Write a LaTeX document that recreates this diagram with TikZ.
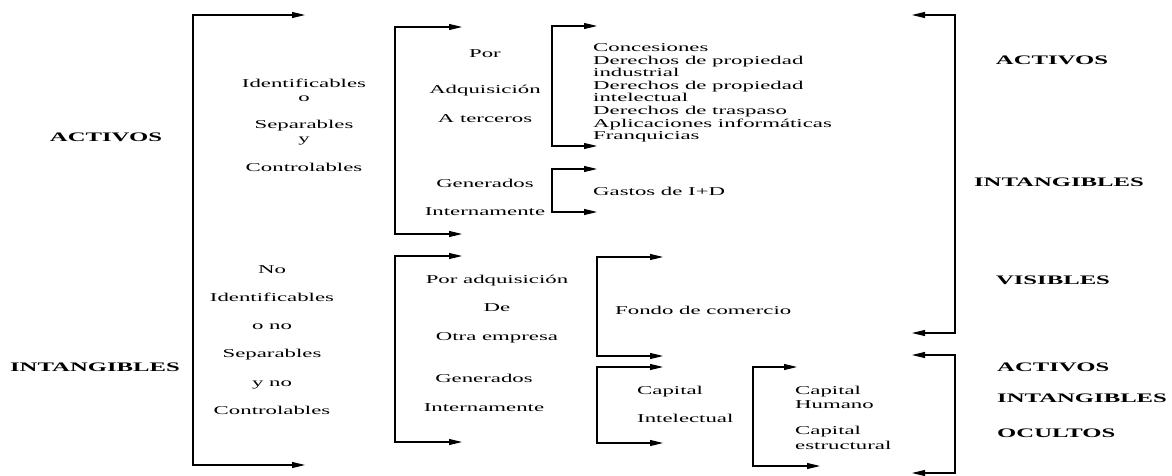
\documentclass[tikz,border=0pt]{standalone}
\usepackage{fontspec}
\setmainfont[FakeStretch=1.9]{Liberation Serif}
\usetikzlibrary{arrows.meta,positioning}

\begin{document}
\begin{tikzpicture}[x=1pt,y=-1pt]
      \useasboundingbox (0,0) rectangle (1172,476);
      \tikzset{
        TitleStyle/.style = {font=\fontsize{13}{15}\selectfont\bfseries, inner sep=0pt},
        TextStyle/.style = {font=\fontsize{12}{14}\selectfont, inner sep=0pt, align=center},
        ListStyle/.style = {font=\fontsize{12}{12.6}\selectfont, inner sep=0pt, align=left, anchor=west},
        BracketStyle/.style = {{Triangle[length=13pt,width=6pt]}-{Triangle[length=13pt,width=6pt]}, line width=1.1pt}
      }

      % Labels
      \node[TitleStyle] (activos) at (106,137) {ACTIVOS};
      \node[TitleStyle] (intangibles) at (95,367) {INTANGIBLES};
      \node[TextStyle, font=\fontsize{12}{14.5}\selectfont] (ident) at (304,125) {Identificables\\o\\[12pt]Separables\\y\\[14pt]Controlables};
      \node[TextStyle, font=\fontsize{12}{28.2}\selectfont] (noident) at (272,340) {No\\Identificables\\o no\\Separables\\y no\\Controlables};
      \node[TextStyle, font=\fontsize{12}{29}\selectfont] (terceros) at (485,86) {Por\\[7pt]Adquisición\\A terceros};
      \node[TextStyle, font=\fontsize{12}{28}\selectfont] (gen1) at (485,197) {Generados\\Internamente};
      \node[TextStyle, font=\fontsize{12}{28.5}\selectfont] (otra) at (497,309) {Por adquisición\\De\\Otra empresa};
      \node[TextStyle, font=\fontsize{12}{29}\selectfont] (gen2) at (484,393) {Generados\\Internamente};
      \node[ListStyle, font=\fontsize{12}{28}\selectfont] (capint) at (637,404) {Capital\\Intelectual};
      \node[ListStyle] (lista) at (593,93) {Concesiones\\Derechos de propiedad\\industrial\\Derechos de propiedad\\intelectual\\Derechos de traspaso\\Aplicaciones informáticas\\Franquicias};
      \node[ListStyle] (gastos) at (593,191) {Gastos de I+D};
      \node[ListStyle] (fondo) at (615,310) {Fondo de comercio};
      \node[ListStyle, font=\fontsize{12}{14}\selectfont] (caphum) at (795,397) {Capital\\Humano};
      \node[ListStyle, font=\fontsize{12}{14.5}\selectfont] (capest) at (795,438) {Capital\\estructural};
      \node[TitleStyle] (ractivos) at (1052,60) {ACTIVOS};
      \node[TitleStyle] (rintang) at (1059,182) {INTANGIBLES};
      \node[TitleStyle] (rvisibles) at (1053,280) {VISIBLES};
      \node[TitleStyle, anchor=west] (oactivos) at (997,367) {ACTIVOS};
      \node[TitleStyle, anchor=west] (ointang) at (997,398) {INTANGIBLES};
      \node[TitleStyle, anchor=west] (oocultos) at (997,433) {OCULTOS};

      % Bracket ends
      \coordinate (act-t) at (305,15);  \coordinate (act-c) at (193,465); \coordinate (act-b) at (305,465);
      \coordinate (id-t) at (462,27);   \coordinate (id-c) at (395,234);  \coordinate (id-b) at (462,234);
      \coordinate (no-t) at (462,256);  \coordinate (no-c) at (395,442);  \coordinate (no-b) at (462,442);
      \coordinate (ter-t) at (597,26);  \coordinate (ter-c) at (552,146); \coordinate (ter-b) at (597,146);
      \coordinate (gi-t) at (597,169);  \coordinate (gi-c) at (552,212);  \coordinate (gi-b) at (597,212);
      \coordinate (ot-t) at (663,257);  \coordinate (ot-c) at (597,356);  \coordinate (ot-b) at (663,356);
      \coordinate (ge-t) at (663,367);  \coordinate (ge-c) at (597,443);  \coordinate (ge-b) at (663,443);
      \coordinate (ci-t) at (797,367);  \coordinate (ci-c) at (753,466);  \coordinate (ci-b) at (820,466);
      \coordinate (vis-t) at (912,15);  \coordinate (vis-c) at (955,333); \coordinate (vis-b) at (912,333);
      \coordinate (ocu-t) at (912,355); \coordinate (ocu-c) at (955,473); \coordinate (ocu-b) at (912,473);

      % Brackets
      \draw[BracketStyle] (act-t) -| (act-c) -- (act-b);
      \draw[BracketStyle] (id-t) -| (id-c) -- (id-b);
      \draw[BracketStyle] (no-t) -| (no-c) -- (no-b);
      \draw[BracketStyle] (ter-t) -| (ter-c) -- (ter-b);
      \draw[BracketStyle] (gi-t) -| (gi-c) -- (gi-b);
      \draw[BracketStyle] (ot-t) -| (ot-c) -- (ot-b);
      \draw[BracketStyle] (ge-t) -| (ge-c) -- (ge-b);
      \draw[BracketStyle] (ci-t) -| (ci-c) -- (ci-b);
      \draw[BracketStyle] (vis-t) -| (vis-c) -- (vis-b);
      \draw[BracketStyle] (ocu-t) -| (ocu-c) -- (ocu-b);
\end{tikzpicture}
\end{document}
